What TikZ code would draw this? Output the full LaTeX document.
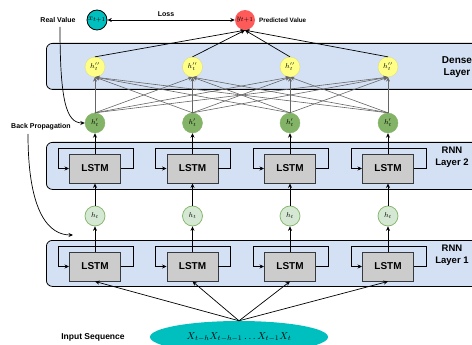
\documentclass[tikz,border=0pt]{standalone}
\usepackage{fontspec}
\setsansfont{Liberation Sans}
\usetikzlibrary{arrows.meta,shapes.geometric}
\definecolor{layerblue}{HTML}{D4E1F5}
\definecolor{lstmgray}{HTML}{CCCCCC}
\definecolor{darkline}{HTML}{36393D}
\definecolor{yel}{HTML}{FFFF88}
\definecolor{greendark}{HTML}{82B366}
\definecolor{greenlight}{HTML}{D5E8D4}
\definecolor{tealc}{HTML}{00BFBF}
\definecolor{redc}{HTML}{FF5A5A}
\definecolor{greyline}{HTML}{666666}
\tikzset{
  layerbox/.style={draw=black, line width=0.8pt, fill=layerblue, rounded corners=6pt, anchor=north west},
  lstm/.style={draw=darkline, line width=0.9pt, fill=lstmgray, minimum width=51pt, minimum height=29pt, inner sep=0pt, font=\sffamily\bfseries\fontsize{10}{12}\selectfont},
  circ/.style={circle, minimum size=20pt, inner sep=0pt, font=\fontsize{7}{8}\selectfont},
  arr/.style={-{Stealth[length=4.5pt,width=4pt]}, line width=0.7pt, black},
  garr/.style={-{Stealth[length=4.5pt,width=4pt]}, line width=0.6pt, greyline},
  lbl/.style={font=\sffamily\bfseries\fontsize{7}{8}\selectfont, inner sep=0pt},
  laylbl/.style={font=\sffamily\bfseries\fontsize{10}{12}\selectfont, align=center, inner sep=0pt}
}
\begin{document}
\begin{tikzpicture}[x=1pt,y=-1pt]
\useasboundingbox (0,0) rectangle (472,345);
\clip (0,0) rectangle (472,345);
% layers
\node[layerbox, minimum width=450pt, minimum height=46pt] (dense) at (46,43) {};
\node[layerbox, minimum width=450pt, minimum height=47pt] (rnn2) at (46,142) {};
\node[layerbox, minimum width=450pt, minimum height=46pt] (rnn1) at (46,240) {};
\node[laylbl] (dlab) at (457,67) {Dense\\Layer};
\node[laylbl, font=\sffamily\bfseries\fontsize{9.5}{12}\selectfont] (r2lab) at (452,157) {RNN\\Layer 2};
\node[laylbl, font=\sffamily\bfseries\fontsize{9.5}{12}\selectfont] (r1lab) at (452,255) {RNN\\Layer 1};
% outputs
\node[circ, draw=black, line width=0.8pt, fill=tealc, font=\fontsize{8.5}{9}\selectfont] (x) at (97,20) {$x_{t+1}$};
\node[circ, fill=redc, font=\fontsize{8.5}{9}\selectfont] (y) at (245,20) {$y_{t+1}$};
\draw[{Stealth[length=4.5pt,width=4pt]}-{Stealth[length=4.5pt,width=4pt]}, line width=0.7pt] (x) -- (y);
\node[lbl] (loss) at (166,14) {Loss};
\node[lbl] (rv) at (58,20) {Real Value};
\node[lbl, anchor=west, font=\sffamily\bfseries\fontsize{6.3}{7}\selectfont] (pv) at (259,20.5) {Predicted Value};
\node[lbl] (bp) at (41,127) {Back Propagation};
\node[lbl, font=\sffamily\bfseries\fontsize{8.5}{10}\selectfont] (is) at (93,337) {Input Sequence};
% input ellipse
\node[ellipse, fill=tealc, minimum width=178pt, minimum height=32pt, inner sep=0pt] (inp) at (239,337) {\fontsize{10}{12}\selectfont$X_{t-h}X_{t-h-1}\ldots X_{t-1}X_t$};
\coordinate (apex) at (inp.north);
% columns
\foreach \i/\x in {1/95,2/192.5,3/290,4/388}{
  \node[lstm] (lb\i) at (\x,266.5) {LSTM};
  \node[lstm] (la\i) at (\x,168.5) {LSTM};
  \node[circ, draw=greendark, line width=0.7pt, fill=greenlight] (h\i) at (\x,216) {$h_t$};
  \node[circ, draw=greendark, fill=greendark] (hp\i) at (\x,123) {$h_t'$};
  \node[circ, draw=yel!85!black, line width=0.3pt, fill=yel] (hpp\i) at (\x,67) {$h_t''$};
}
\foreach \i in {1,2,3,4}{
  \draw[arr] (lb\i.east) -- ++(12,0) -- ++(0,-20.5) -- ++(-75,0) -- ++(0,20.5) -- (lb\i.west);
  \draw[arr] (la\i.east) -- ++(12,0) -- ++(0,-20.5) -- ++(-75,0) -- ++(0,20.5) -- (la\i.west);
  \draw[arr] (apex) -- (lb\i.south);
  \draw[arr] (lb\i.north) -- (h\i.south);
  \draw[arr] (h\i.north) -- (la\i.south);
  \draw[arr] (la\i.north) -- (hp\i.south);
  \draw[arr] (hpp\i.north) -- (y.south);
  \foreach \j in {1,2,3,4}{
    \draw[garr] (hp\i.north) -- (hpp\j.south);
  }
}
% feedback curves
\draw[arr] (rv.south) ++(2,4) .. controls (60,100) and (66,123) .. (hp1.west);
\coordinate (bps) at (28,134);
\coordinate (bpe) at (73,235);
\draw[arr] (bps) .. controls (28,215) and (50,235) .. (bpe);
\end{tikzpicture}
\end{document}
